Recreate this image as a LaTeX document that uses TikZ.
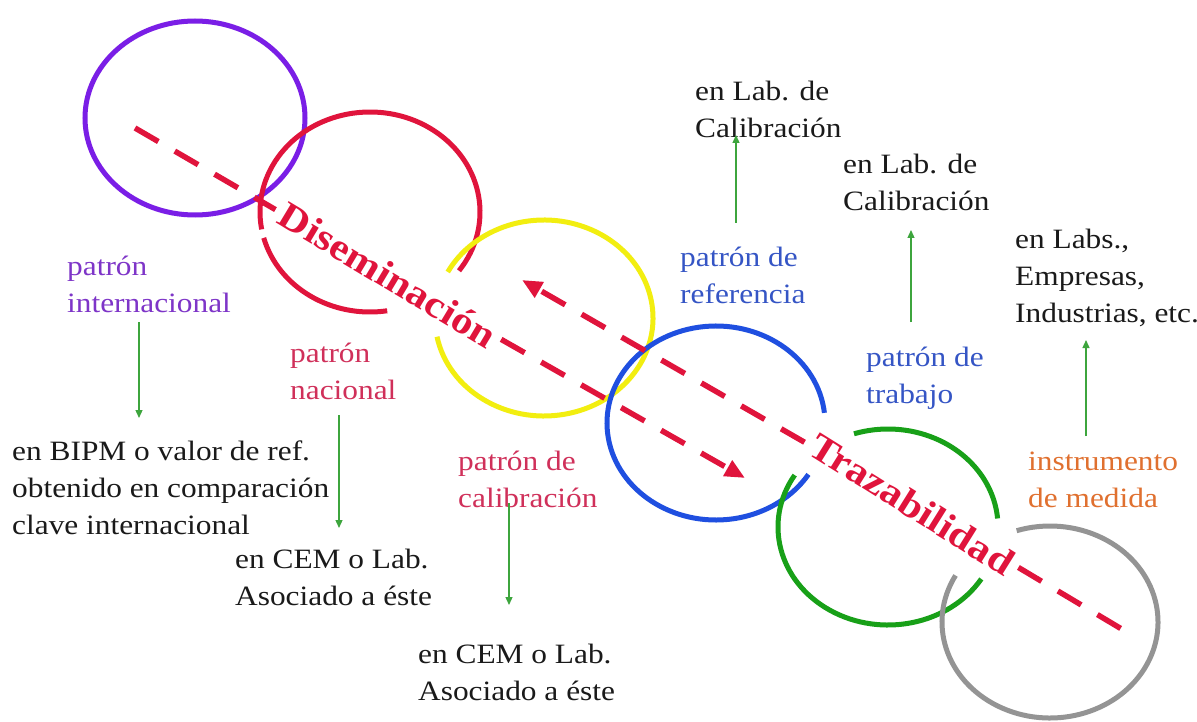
\documentclass[tikz,border=0pt]{standalone}
\usepackage{fontspec}
\setmainfont{Liberation Serif}[FakeStretch=1.12]
\usetikzlibrary{arrows.meta}
\definecolor{cPurple}{HTML}{7A1EE6}
\definecolor{tPurple}{HTML}{7E35C8}
\definecolor{cRed}{HTML}{E0143C}
\definecolor{tRed}{HTML}{D0305A}
\definecolor{cYellow}{HTML}{F2EE10}
\definecolor{cBlue}{HTML}{1F4FE0}
\definecolor{tBlue}{HTML}{3555C5}
\definecolor{cGreen}{HTML}{18A018}
\definecolor{aGreen}{HTML}{3DA53D}
\definecolor{cGray}{HTML}{949494}
\definecolor{tOrange}{HTML}{E0702F}
\definecolor{tBlack}{HTML}{1A1A1A}
\newcommand\topstrut{\rule{0pt}{21pt}}
\tikzset{
  ring/.style={line width=5pt},
  dashline/.style={draw=cRed, line width=5.5pt, dash pattern=on 27pt off 19pt},
  redtip/.style={-{Triangle[length=20pt,width=17pt]}},
  garrow/.style={draw=aGreen, line width=1.3pt, -{Triangle[length=8pt,width=7pt]}},
  lbl/.style={anchor=north west, inner sep=0pt, align=left,
    font=\fontsize{28}{37}\selectfont},
  big/.style={inner sep=7pt, text=cRed, font=\fontsize{38}{40}\selectfont\bfseries}
}
\begin{document}
\begin{tikzpicture}[x=1pt,y=1pt]
\useasboundingbox[fill=white] (0,0) rectangle (1197,-722);
% rings
\draw[ring,cPurple] (195,-118) ellipse [x radius=110, y radius=97];
\draw[ring,cRed] (370,-212) ++(-36:110 and 100) arc[start angle=-36, end angle=190, x radius=110, y radius=100];
\draw[ring,cRed] (370,-212) ++(195:110 and 100) arc[start angle=195, end angle=279, x radius=110, y radius=100];
\draw[ring,cYellow] (544,-318) ++(191:109 and 98) arc[start angle=191, end angle=512, x radius=109, y radius=98];
\draw[ring,cBlue] (716,-423) ++(6:109 and 97) arc[start angle=6, end angle=328, x radius=109, y radius=97];
\draw[ring,cGreen] (888,-527) ++(5:110 and 98) arc[start angle=5, end angle=108, x radius=110, y radius=98];
\draw[ring,cGreen] (888,-527) ++(148:110 and 98) arc[start angle=148, end angle=328, x radius=110, y radius=98];
\draw[ring,cGray] (1050,-622) ++(151:108 and 96) arc[start angle=151, end angle=468, x radius=108, y radius=96];
% big rotated words
\node[big, rotate=-31] (dis) at (388,-275) {Diseminación};
\node[big, rotate=-32] (trz) at (912,-504) {Trazabilidad};
\coordinate (a0) at (135,-128);
\coordinate (a1) at (745,-478);
\coordinate (b0) at (522,-280);
\coordinate (b1) at (1135,-637);
\draw[dashline] (a0) -- (dis);
\draw[dashline, redtip] (dis) -- (a1);
\draw[dashline, redtip] (trz) -- (b0);
\draw[dashline] (trz) -- (b1);
% labels
\node[lbl, text=tPurple] (pint) at (67,-254) {\topstrut patrón\\internacional};
\node[lbl, text=tBlack] (bipm) at (12,-439) {\topstrut en BIPM o valor de ref.\\obtenido en comparación\\clave internacional};
\node[lbl, text=tRed] (pnac) at (290,-341) {\topstrut patrón\\nacional};
\node[lbl, text=tBlack] (cem1) at (235,-547) {\topstrut en CEM o Lab.\\Asociado a éste};
\node[lbl, text=tRed] (pcal) at (458,-449) {\topstrut patrón de\\calibración};
\node[lbl, text=tBlack] (cem2) at (418,-642) {\topstrut en CEM o Lab.\\Asociado a éste};
\node[lbl, text=tBlack] (lab1) at (695,-79) {\topstrut en Lab. de\\Calibración};
\node[lbl, text=tBlue] (pref) at (680,-245) {\topstrut patrón de\\referencia};
\node[lbl, text=tBlack] (lab2) at (843,-152) {\topstrut en Lab. de\\Calibración};
\node[lbl, text=tBlue] (ptra) at (866,-345) {\topstrut patrón de\\trabajo};
\node[lbl, text=tBlack] (labs) at (1015,-227) {\topstrut en Labs.,\\Empresas,\\Industrias, etc.};
\node[lbl, text=tOrange] (inst) at (1028,-449) {\topstrut instrumento\\de medida};
% green arrows
\coordinate (g1a) at (139,-322); \coordinate (g1b) at (139,-418);
\coordinate (g2a) at (339,-415); \coordinate (g2b) at (339,-528);
\coordinate (g3a) at (509,-503); \coordinate (g3b) at (509,-605);
\coordinate (g4a) at (736,-223); \coordinate (g4b) at (736,-135);
\coordinate (g5a) at (911,-322); \coordinate (g5b) at (911,-230);
\coordinate (g6a) at (1086,-436); \coordinate (g6b) at (1086,-340);
\draw[garrow] (g1a) -- (g1b);
\draw[garrow] (g2a) -- (g2b);
\draw[garrow] (g3a) -- (g3b);
\draw[garrow] (g4a) -- (g4b);
\draw[garrow] (g5a) -- (g5b);
\draw[garrow] (g6a) -- (g6b);
\end{tikzpicture}
\end{document}
